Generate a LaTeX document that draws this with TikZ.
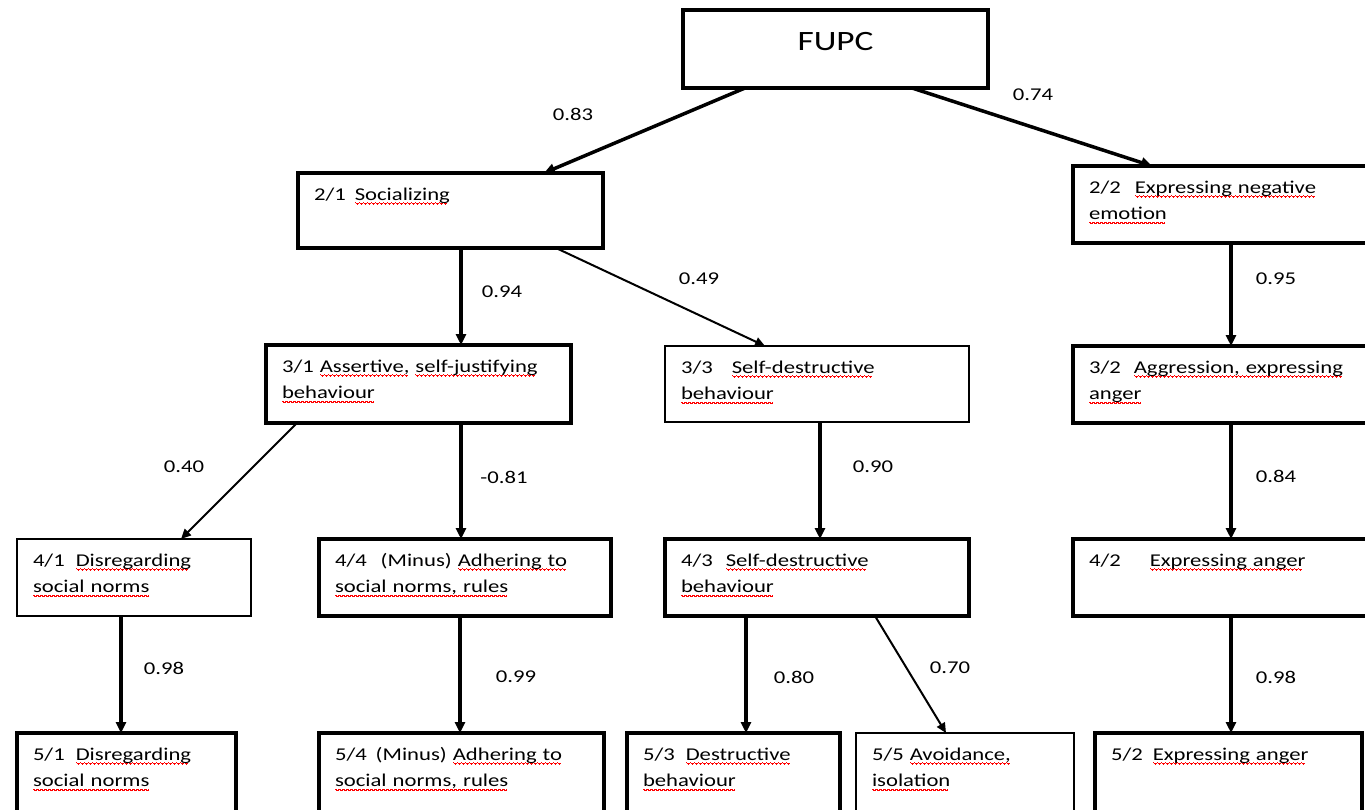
\documentclass[tikz,border=0pt]{standalone}
\usepackage{fontspec}
\setmainfont{Carlito}[FakeStretch=1.26]
\usetikzlibrary{arrows.meta}
% red spell-check wave under a word, built from small rules
\newcommand{\wavebit}{\vrule height-2.2pt depth3.4pt width1pt\vrule height-2.8pt depth4pt width1pt\vrule height-3.4pt depth4.6pt width1pt\vrule height-2.8pt depth4pt width1pt}
\newcommand{\sq}[1]{\setbox0\hbox{#1}\leavevmode\rlap{\textcolor{red}{\hbox to\wd0{\leaders\hbox{\wavebit}\hfill}}}\box0\relax}
\newcommand{\boxfont}{\fontsize{18}{26.5}\selectfont}
\newcommand{\gap}[1]{\hspace{#1pt}}
\tikzset{
  bx/.style={draw, line width=4pt, anchor=north west, align=left, inner xsep=16pt, inner ysep=0pt, outer sep=0pt, text height=27pt, font=\boxfont},
  bxt/.style={bx, line width=1.8pt},
  rootbox/.style={draw, line width=4pt, anchor=north west, minimum width=305pt, minimum height=78pt, inner sep=0pt, outer sep=0pt, text height=18pt, text depth=16pt, font=\fontsize{28}{30}\selectfont},
  a/.style={-{Triangle[length=11pt, width=10pt]}, line width=3.5pt},
  athin/.style={-{Triangle[length=10pt, width=9pt]}, line width=2pt},
  lbl/.style={font=\boxfont, inner sep=0pt},
}
\begin{document}
\begin{tikzpicture}[x=1pt, y=-1pt]
\useasboundingbox (0,0) rectangle (1365,809);

% level 1
\node[rootbox] (fupc) at (683,10) {FUPC};

% level 2
\node[bx, text width=273pt, text depth=48pt] (n21) at (298,173) {2/1\gap{9}\sq{Socializing}};
\node[bx, text width=278pt, text depth=50pt] (n22) at (1073,166) {2/2\gap{14}\sq{Expressing negative}\\\sq{emotion}};

% level 3
\node[bx,  text width=273pt, text depth=51pt] (n31) at (266,345) {3/1 \sq{Assertive,} \sq{self-justifying}\\\sq{behaviour}};
\node[bxt, text width=272pt, text depth=49pt] (n33) at (665,346) {3/3\gap{19}\sq{Self-destructive}\\\sq{behaviour}};
\node[bx,  text width=278pt, text depth=50pt] (n32) at (1073,346) {3/2\gap{13}\sq{Aggression, expressing}\\\sq{anger}};

% level 4
\node[bxt, text width=202pt, text depth=50pt] (n41) at (17,539) {4/1\gap{11}\sq{Disregarding}\\\sq{social norms}};
\node[bx,  text width=260pt, text depth=50pt] (n44) at (319,539) {4/4\gap{14}(Minus) \sq{Adhering to}\\\sq{social norms, rules}};
\node[bx,  text width=272pt, text depth=50pt] (n43) at (665,539) {4/3\gap{13}\sq{Self-destructive}\\\sq{behaviour}};
\node[bx,  text width=278pt, text depth=50pt] (n42) at (1073,539) {4/2\gap{29}\sq{Expressing anger}};

% level 5
\node[bx,  text width=187pt, text depth=53pt] (n51) at (17,733) {5/1\gap{11}\sq{Disregarding}\\\sq{social norms}};
\node[bx,  text width=253pt, text depth=53pt] (n54) at (319,733) {5/4\gap{9}(Minus) \sq{Adhering to}\\\sq{social norms, rules}};
\node[bx,  text width=181pt, text depth=53pt] (n53) at (627,733) {5/3\gap{11}\sq{Destructive}\\\sq{behaviour}};
\node[bxt, text width=186pt, text depth=53pt] (n55) at (856,733) {5/5 \sq{Avoidance,}\\\sq{isolation}};
\node[bx,  text width=235pt, text depth=53pt] (n52) at (1095,733) {5/2\gap{10}\sq{Expressing anger}};

% connectors
\draw[a]     ([xshift=62pt]fupc.south west) -- ([xshift=246pt]n21.north west);
\draw[a]     ([xshift=229pt]fupc.south west) -- ([xshift=79pt]n22.north west);
\draw[a]     ([xshift=163pt]n21.south west) -- ([xshift=195pt]n31.north west);
\draw[athin] ([xshift=258pt]n21.south west) -- ([xshift=100pt]n33.north west);
\draw[a]     ([xshift=158pt]n22.south west) -- ([xshift=158pt]n32.north west);
\draw[athin] ([xshift=31pt]n31.south west) -- ([xshift=164pt]n41.north west);
\draw[a]     ([xshift=195pt]n31.south west) -- ([xshift=142pt]n44.north west);
\draw[a]     ([xshift=155pt]n33.south west) -- ([xshift=155pt]n43.north west);
\draw[a]     ([xshift=158pt]n32.south west) -- ([xshift=158pt]n42.north west);
\draw[a]     ([xshift=104pt]n41.south west) -- ([xshift=104pt]n51.north west);
\draw[a]     ([xshift=141pt]n44.south west) -- ([xshift=141pt]n54.north west);
\draw[a]     ([xshift=81pt]n43.south west) -- ([xshift=119pt]n53.north west);
\draw[athin] ([xshift=210pt]n43.south west) -- ([xshift=90pt]n55.north west);
\draw[a]     ([xshift=158pt]n42.south west) -- ([xshift=136pt]n52.north west);

% loadings
\node[lbl] (l83) at (573,114) {0.83};
\node[lbl] (l74) at (1033,95) {0.74};
\node[lbl] (l94) at (502,292) {0.94};
\node[lbl] (l49) at (699,279) {0.49};
\node[lbl] (l95) at (1276,279) {0.95};
\node[lbl] (l40) at (184,467) {0.40};
\node[lbl] (l81) at (504,477) {-0.81};
\node[lbl] (l90) at (873,467) {0.90};
\node[lbl] (l84) at (1276,476) {0.84};
\node[lbl] (l98a) at (164,668) {0.98};
\node[lbl] (l99) at (516,677) {0.99};
\node[lbl] (l80) at (794,677) {0.80};
\node[lbl] (l70) at (950,668) {0.70};
\node[lbl] (l98b) at (1276,677) {0.98};
\end{tikzpicture}
\end{document}
